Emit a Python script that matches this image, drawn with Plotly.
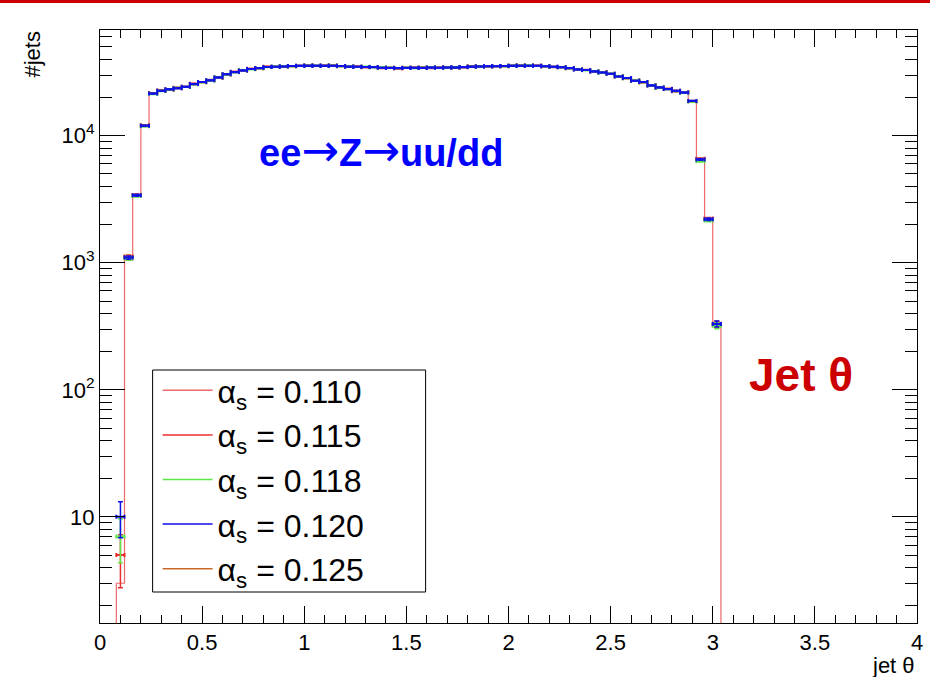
import numpy as np
import plotly.graph_objects as go

# Jet polar-angle histograms, 0.04-wide bins starting at theta = 0.08
theta_first_edge = 0.08
bin_width = 0.04

alphas_labels = ["0.110", "0.115", "0.118", "0.120", "0.125"]

jets_as110 = [3, 1050, 3350, 11800,
    21300, 22400, 23300, 23600, 24400, 25300, 26700, 27100, 28700, 30600,
    31500, 32900, 33300, 34200, 34600, 35100, 35000, 35300, 35700, 35400,
    35500, 35700, 35400, 35300, 35100, 34700, 34900, 34500, 34400, 34000,
    34200, 34000, 34500, 34100, 34300, 34500, 34300, 34600, 34800, 35100,
    35000, 35300, 35200, 35600, 35400, 35500, 35700, 35400, 35100, 35000,
    34500, 34200, 33500, 32700, 32200, 31300, 30900, 29200, 28700, 27000,
    26600, 24800, 24100, 23200, 22700, 21800, 18500, 6400, 2150, 340]

jets_as115 = [5, 1120, 3420, 12100,
    21700, 22700, 23000, 23900, 24200, 25700, 26400, 27500, 28600, 30400,
    31900, 32600, 33700, 34000, 35000, 34800, 35300, 35200, 35400, 35700,
    35400, 35600, 35700, 35200, 34900, 35000, 34600, 34800, 34100, 34300,
    33900, 34300, 34200, 34400, 34100, 34300, 34600, 34300, 34600, 35200,
    35200, 35100, 35400, 35200, 35600, 35700, 35500, 35600, 35300, 34700,
    34700, 34000, 33500, 33000, 32000, 31700, 30600, 29500, 28300, 27300,
    26300, 25100, 23800, 23400, 22400, 22000, 18700, 6600, 2230, 325]

jets_as118 = [7, 1080, 3350, 11900,
    21300, 22500, 23100, 23800, 24200, 25400, 26400, 27200, 28900, 30400,
    31600, 32800, 33400, 34000, 34700, 35000, 35200, 35300, 35400, 35600,
    35500, 35400, 35500, 35300, 35100, 34800, 34900, 34600, 34400, 34300,
    34100, 34300, 34100, 34300, 34500, 34200, 34400, 34500, 34800, 34900,
    35100, 35200, 35400, 35300, 35600, 35500, 35700, 35400, 35300, 34800,
    34700, 34000, 33400, 32800, 32200, 31400, 30700, 29400, 28400, 27200,
    26400, 25000, 23900, 23300, 22500, 21800, 18600, 6300, 2150, 320]

jets_as120 = [10, 1100, 3400, 12000,
    21500, 22600, 23200, 23700, 24300, 25500, 26500, 27300, 28800, 30500,
    31700, 32700, 33500, 34100, 34800, 34900, 35100, 35400, 35500, 35500,
    35600, 35500, 35600, 35400, 35000, 34900, 34800, 34700, 34300, 34200,
    34100, 34200, 34300, 34200, 34400, 34300, 34500, 34400, 34700, 35000,
    35100, 35200, 35300, 35400, 35500, 35600, 35600, 35500, 35200, 34900,
    34600, 34100, 33300, 32900, 32100, 31500, 30800, 29300, 28500, 27100,
    26500, 24900, 24000, 23300, 22600, 21900, 18800, 6500, 2200, 330]

jets_as125 = [0, 1110, 3380, 12050,
    21600, 22600, 23200, 23700, 24300, 25500, 26500, 27300, 28800, 30500,
    31700, 32700, 33500, 34100, 34800, 34900, 35100, 35400, 35500, 35500,
    35600, 35500, 35600, 35400, 35000, 34900, 34800, 34700, 34300, 34200,
    34100, 34200, 34300, 34200, 34400, 34300, 34500, 34400, 34700, 35000,
    35100, 35200, 35300, 35400, 35500, 35600, 35600, 35500, 35200, 34900,
    34600, 34100, 33300, 32900, 32100, 31500, 30800, 29300, 28500, 27100,
    26500, 24900, 24000, 23300, 22600, 21900, 18800, 6500, 2200, 330]

colors = {
    "0.110": "#ee6a6a",
    "0.115": "#e83030",
    "0.118": "#5de84a",
    "0.120": "#1010e8",
    "0.125": "#c8692a",
}

series = {
    "0.110": jets_as110,
    "0.115": jets_as115,
    "0.118": jets_as118,
    "0.120": jets_as120,
    "0.125": jets_as125,
}

n_bins = len(jets_as120)
lo_edges = theta_first_edge + bin_width * np.arange(n_bins)
centers = lo_edges + bin_width / 2
hi_last = lo_edges[-1] + bin_width

FONT = "Liberation Sans, Arial, Helvetica, sans-serif"
below_axis = 1e-3  # empty bins sit below the visible log range

fig = go.Figure()

# alpha_s = 0.110 drawn as a histogram outline
h = np.array(series["0.110"], dtype=float)
step_x = np.concatenate([[lo_edges[0]], lo_edges, [hi_last]])
step_y = np.concatenate([[below_axis], np.where(h > 0, h, below_axis), [below_axis]])
fig.add_trace(go.Scatter(
    x=step_x, y=step_y, mode="lines", line=dict(color=colors["0.110"], width=1.2, shape="hv"),
    name="α<sub>s</sub> = 0.110", legendgroup="0.110", showlegend=False, hoverinfo="skip"))

# the other couplings drawn as error-bar crosses only (draw order: blue on top)
for key in ["0.115", "0.125", "0.118", "0.120"]:
    v = np.array(series[key], dtype=float)
    m = v > 0
    fig.add_trace(go.Scatter(
        x=centers[m], y=v[m], mode="markers",
        marker=dict(size=1, color=colors[key], opacity=0),
        error_x=dict(type="constant", value=bin_width / 2, color=colors[key], thickness=2, width=2),
        error_y=dict(type="data", array=np.sqrt(v[m]), color=colors[key], thickness=1.5, width=2.5),
        name="α<sub>s</sub> = " + key, legendgroup=key, showlegend=False))

# legend entries
for key in alphas_labels:
    fig.add_trace(go.Scatter(
        x=[None], y=[None], mode="lines", line=dict(color=colors[key], width=1.5),
        name="α<sub>s</sub> = " + key, legendgroup=key, showlegend=True))

PX_L, PX_R, PX_T, PX_B = 100, 7, 30, 54
W, H = 930, 677
pw = W - PX_L - PX_R
ph = H - PX_T - PX_B

def px_x(px):
    return (px - PX_L) / pw

def px_y(py):
    return (H - PX_B - py) / ph

y_major = [10, 100, 1000, 10000]
y_major_text = ["10", "10<sup>2</sup>", "10<sup>3</sup>", "10<sup>4</sup>"]
y_minor = [m * 10 ** d for d in range(0, 5) for m in range(2, 10) if m * 10 ** d < 7e4]

ARROW = '<span style="font-family:DejaVu Sans;font-weight:normal;font-size:45px">→</span>'

fig.update_layout(
    width=W, height=H,
    margin=dict(l=PX_L, r=PX_R, t=PX_T, b=PX_B),
    paper_bgcolor="white", plot_bgcolor="white",
    font=dict(family=FONT, color="black"),
    showlegend=True,
    legend=dict(
        x=px_x(158), y=px_y(363), xanchor="left", yanchor="top",
        bgcolor="rgba(0,0,0,0)", borderwidth=0,
        font=dict(family=FONT, size=32, color="black"),
        tracegroupgap=0, itemwidth=50,
    ),
    xaxis=dict(
        range=[0, 4], showgrid=False, zeroline=False,
        showline=True, linecolor="black", linewidth=1, mirror="allticks",
        ticks="inside", ticklen=17, tickwidth=1, tickcolor="black",
        tick0=0, dtick=0.5,
        tickfont=dict(family=FONT, size=22, color="black"),
        minor=dict(ticks="inside", ticklen=8, tickwidth=1, tickcolor="black", dtick=0.1, showgrid=False),
    ),
    yaxis=dict(
        type="log", range=[np.log10(1.46), np.log10(6.8e4)],
        showgrid=False, zeroline=False,
        showline=True, linecolor="black", linewidth=1, mirror="allticks",
        ticks="inside", ticklen=25, tickwidth=1, tickcolor="black",
        tickmode="array", tickvals=y_major, ticktext=y_major_text,
        tickfont=dict(family=FONT, size=22, color="black"),
        minor=dict(ticks="inside", ticklen=12, tickwidth=1, tickcolor="black",
                   tickmode="array", tickvals=y_minor, showgrid=False),
    ),
    shapes=[
        # legend frame
        dict(type="rect", xref="paper", yref="paper",
             x0=px_x(153), x1=px_x(428), y0=px_y(592), y1=px_y(370),
             line=dict(color="black", width=1), fillcolor="white", layer="below"),
        # slide banner line
        dict(type="rect", xref="paper", yref="paper",
             x0=px_x(-5), x1=px_x(940), y0=px_y(3), y1=px_y(-5),
             line=dict(width=0), fillcolor="#cc0000"),
    ],
    annotations=[
        dict(text="#jets", xref="paper", yref="paper", x=px_x(31), y=px_y(30),
             xanchor="center", yanchor="top", textangle=-90, showarrow=False,
             font=dict(family=FONT, size=22, color="black")),
        dict(text="jet θ", xref="paper", yref="paper", x=px_x(923), y=px_y(665),
             xanchor="right", yanchor="middle", showarrow=False,
             font=dict(family=FONT, size=22, color="black")),
        dict(text="<b>ee</b>" + ARROW + "<b>Z</b>" + ARROW + "<b>uu/dd</b>",
             xref="paper", yref="paper", x=px_x(383), y=px_y(150),
             xanchor="center", yanchor="middle", showarrow=False,
             font=dict(family=FONT, size=38, color="#0000ff")),
        dict(text="<b>Jet θ</b>", xref="paper", yref="paper", x=px_x(752), y=px_y(375),
             xanchor="left", yanchor="middle", showarrow=False,
             font=dict(family=FONT, size=46, color="#cc0000")),
    ],
)

fig.write_html("out.html")
